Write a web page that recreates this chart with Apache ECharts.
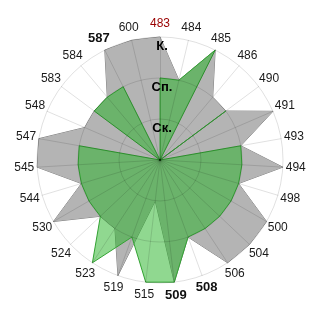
<!DOCTYPE html>
<html><head><meta charset="utf-8">
<script src="https://cdn.jsdelivr.net/npm/echarts@6/dist/echarts.min.js"></script>
<style>html,body{margin:0;padding:0;background:#fff}#c{width:320px;height:320px}</style>
</head><body><div id="c"></div>
<script>
const categories = ['483','484','485','486','490','491','493','494','498','500','504','506','508','509','515','519','523','524','530','544','545','547','548','583','584','587','600'];
const grayValues  = [3,2,3,2,2,3,2,3,2,3,3,3,2,3,1,3,2,2,3,2,3,3,2,2,2,3,3];
const greenValues = [2,2,3,0,2,0,2,2,2,2,2,2,2,3,3,2,3,2,2,2,2,2,0,2,2,2,0];
const radialTickLabels = ['Ск.','Сп.','К.'];
const boldCategories = ['587','509','508'];
const highlightCategory = '483';

// ECharts radar runs counter-clockwise; reorder so the chart reads clockwise
const order = [0].concat(categories.map((_, i) => i).slice(1).reverse());
const reorder = arr => order.map(i => arr[i]);

const indicator = order.map((i, k) => {
  const ind = { name: categories[i], min: 0, max: 3 };
  if (categories[i] === highlightCategory) ind.color = '#9a0000';
  if (k === 0) {
    ind.axisLabel = {
      show: true, showMinLabel: false, margin: 0,
      align: 'center', verticalAlign: 'top',
      padding: [3, 0, 0, 4],
      fontWeight: 'bold', fontSize: 13, color: '#000',
      fontFamily: 'Arial, "Liberation Sans", sans-serif',
      formatter: v => (v >= 1 ? radialTickLabels[Math.round(v) - 1] : '')
    };
  }
  return ind;
});

const chart = echarts.init(document.getElementById('c'), null, { renderer: 'canvas' });
chart.setOption({
  animation: false,
  backgroundColor: '#fff',
  radar: {
    z: 3,
    center: ['50%', '50%'],
    radius: 123,
    startAngle: 90,
    splitNumber: 3,
    shape: 'circle',
    nameGap: 13,
    indicator: indicator,
    axisName: {
      color: '#1a1a1a', fontSize: 12,
      fontFamily: 'Arial, "Liberation Sans", sans-serif',
      align: 'center', verticalAlign: 'middle',
      formatter: name => boldCategories.includes(name) ? '{b|' + name + '}' : name,
      rich: { b: { fontWeight: 'bold', fontSize: 13, color: '#111', fontFamily: 'Arial, "Liberation Sans", sans-serif' } }
    },
    splitLine: { lineStyle: { color: 'rgba(0,0,0,0.12)', width: 1 } },
    splitArea: { show: false },
    axisLine: { lineStyle: { color: 'rgba(0,0,0,0.12)', width: 1 } },
    axisTick: { show: false },
    axisLabel: { show: false }
  },
  series: [
    {
      type: 'radar', z: 1, symbol: 'none', silent: true,
      data: [{
        value: reorder(grayValues),
        lineStyle: { color: '#808080', width: 1 },
        itemStyle: { color: '#808080' },
        areaStyle: { color: '#b4b4b4', opacity: 1 }
      }]
    },
    {
      type: 'radar', z: 2, symbol: 'none', silent: true,
      data: [{
        value: reorder(greenValues),
        lineStyle: { color: '#3a9e3a', width: 1 },
        itemStyle: { color: '#3a9e3a' },
        areaStyle: { color: 'rgb(33,177,33)', opacity: 0.5 }
      }]
    }
  ]
});
</script>
</body></html>
